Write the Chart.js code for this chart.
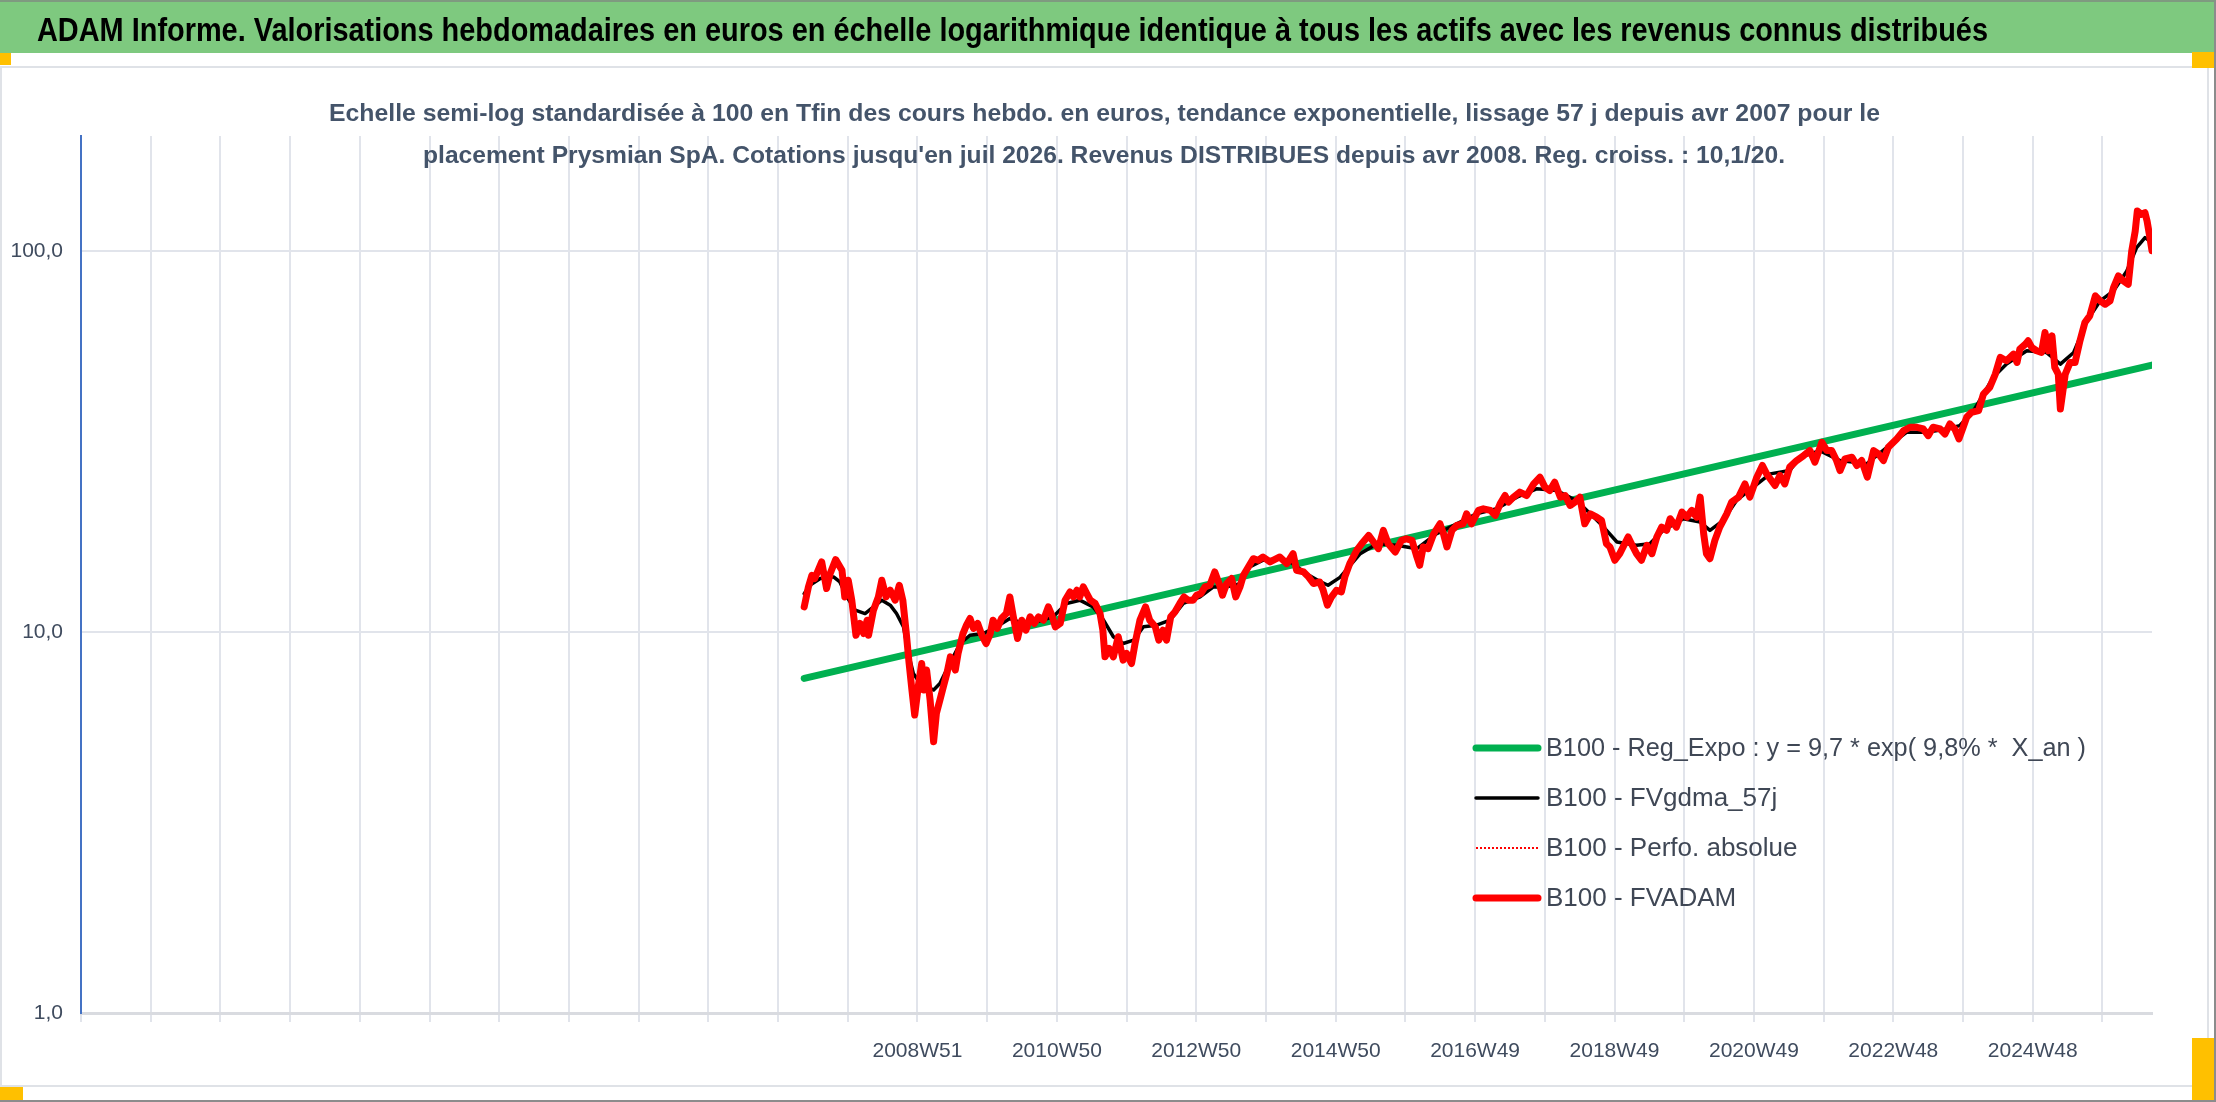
<!DOCTYPE html>
<html lang="fr">
<head>
<meta charset="utf-8">
<title>ADAM Informe - Prysmian SpA</title>
<script src="https://cdn.jsdelivr.net/npm/chart.js@4.4.1/dist/chart.umd.min.js"></script>
<style>
  html, body { margin: 0; padding: 0; background: #fff; }
  body { width: 2216px; height: 1102px; position: relative; overflow: hidden;
         font-family: 'Liberation Sans Narrow', 'Liberation Sans', sans-serif; }
  #frame { position: absolute; left: 0; top: 0; width: 2216px; height: 1102px; box-sizing: border-box;
           border-top: 2px solid #7f9a80; border-right: 2px solid #8c8c8c; border-bottom: 2px solid #8c8c8c; }
  #banner { position: absolute; left: 0; top: 0; width: 2216px; height: 53px; background: #7ec97f; }
  #box { position: absolute; left: 0; top: 66px; width: 2209px; height: 1021px; box-sizing: border-box;
         border: 2px solid #dfe2e7; }
  .tab { position: absolute; background: #ffc000; }
  .fit { position: absolute; white-space: nowrap; transform-origin: 0 0; z-index: 3; }
  #title { font-weight: bold; font-size: 34px; line-height: 34px; color: #000; }
  .sub { font-weight: bold; font-size: 23px; line-height: 23px; color: #44546a; }
  canvas { position: absolute; left: 0; top: 0; z-index: 2; }
</style>
</head>
<body>
<div id="banner"></div>
<div id="box"></div>
<div class="tab" style="left:0;top:53px;width:11px;height:12px"></div>
<div class="tab" style="left:2192px;top:52px;width:22px;height:16px"></div>
<div class="tab" style="left:2192px;top:1038px;width:23px;height:62px"></div>
<div class="tab" style="left:0;top:1087px;width:23px;height:13px"></div>
<div id="frame"></div>
<canvas id="chart" width="2216" height="1102"></canvas>

<div id="title" class="fit" data-left="37" data-top="12" data-width="1951">ADAM Informe. Valorisations hebdomadaires en euros en échelle logarithmique identique à tous les actifs avec les revenus connus distribués</div>
<div class="fit sub" data-left="329" data-top="102" data-width="1551">Echelle semi-log standardisée à 100 en Tfin des cours hebdo. en euros, tendance exponentielle, lissage 57 j depuis avr 2007 pour le</div>
<div class="fit sub" data-left="423" data-top="144" data-width="1362">placement Prysmian SpA. Cotations jusqu'en juil 2026. Revenus DISTRIBUES depuis avr 2008. Reg. croiss. : 10,1/20.</div>

<script>
// --- data (x in decimal years, y in base-100 euros) ---
// one row per calendar year, years and values kept row for row
const fvadamYears = [
  2007.34, 2007.40, 2007.45, 2007.49, 2007.59, 2007.66, 2007.71, 2007.79, 2007.88, 2007.92, 2007.97,
  2008.02, 2008.08, 2008.14, 2008.19, 2008.24, 2008.26, 2008.33, 2008.40, 2008.45, 2008.51, 2008.57, 2008.64, 2008.70, 2008.75, 2008.80, 2008.84, 2008.88, 2008.92, 2008.97,
  2009.02, 2009.05, 2009.09, 2009.14, 2009.19, 2009.23, 2009.28, 2009.33, 2009.38, 2009.43, 2009.50, 2009.54, 2009.61, 2009.66, 2009.71, 2009.76, 2009.82, 2009.88, 2009.94,
  2010.00, 2010.04, 2010.10, 2010.16, 2010.23, 2010.28, 2010.33, 2010.39, 2010.45, 2010.51, 2010.57, 2010.63, 2010.69, 2010.76, 2010.83, 2010.88, 2010.93,
  2011.00, 2011.07, 2011.14, 2011.19, 2011.24, 2011.28, 2011.33, 2011.38, 2011.43, 2011.50, 2011.57, 2011.61, 2011.64, 2011.70, 2011.76, 2011.83, 2011.90, 2011.95,
  2012.02, 2012.07, 2012.14, 2012.22, 2012.28, 2012.36, 2012.41, 2012.47, 2012.52, 2012.58, 2012.64, 2012.71, 2012.77, 2012.83, 2012.90, 2012.95,
  2013.01, 2013.07, 2013.14, 2013.21, 2013.28, 2013.32, 2013.38, 2013.45, 2013.51, 2013.57, 2013.62, 2013.69, 2013.76, 2013.83, 2013.90,
  2014.00, 2014.14, 2014.24, 2014.33, 2014.38, 2014.48, 2014.55, 2014.62, 2014.71, 2014.76, 2014.82, 2014.88, 2014.95,
  2015.02, 2015.07, 2015.14, 2015.24, 2015.31, 2015.41, 2015.48, 2015.55, 2015.62, 2015.69, 2015.79, 2015.88, 2015.95,
  2016.03, 2016.10, 2016.14, 2016.19, 2016.26, 2016.34, 2016.43, 2016.48, 2016.53, 2016.60, 2016.67, 2016.76, 2016.81, 2016.88, 2016.93, 2016.98,
  2017.05, 2017.15, 2017.22, 2017.29, 2017.36, 2017.41, 2017.48, 2017.57, 2017.67, 2017.77, 2017.86, 2017.93,
  2018.00, 2018.07, 2018.15, 2018.22, 2018.29, 2018.36, 2018.43, 2018.50, 2018.58, 2018.67, 2018.74, 2018.81, 2018.86, 2018.93,
  2019.00, 2019.12, 2019.19, 2019.24, 2019.31, 2019.39, 2019.46, 2019.53, 2019.60, 2019.67, 2019.72, 2019.81, 2019.89, 2019.96,
  2020.03, 2020.10, 2020.15, 2020.20, 2020.24, 2020.29, 2020.36, 2020.43, 2020.53, 2020.60, 2020.70, 2020.79, 2020.86, 2020.96,
  2021.04, 2021.10, 2021.22, 2021.29, 2021.36, 2021.43, 2021.53, 2021.63, 2021.72, 2021.79, 2021.89, 2021.96,
  2022.03, 2022.10, 2022.15, 2022.22, 2022.32, 2022.39, 2022.46, 2022.54, 2022.63, 2022.70, 2022.77, 2022.84, 2022.96,
  2023.06, 2023.15, 2023.25, 2023.34, 2023.41, 2023.48, 2023.58, 2023.65, 2023.72, 2023.79, 2023.85, 2023.91, 2023.96,
  2024.03, 2024.13, 2024.20, 2024.29, 2024.37, 2024.44, 2024.53, 2024.63, 2024.68, 2024.72, 2024.80, 2024.84, 2024.89, 2024.96,
  2025.03, 2025.08, 2025.13, 2025.18, 2025.22, 2025.27, 2025.30, 2025.37, 2025.44, 2025.51, 2025.58, 2025.65, 2025.72, 2025.80, 2025.87, 2025.94,
  2026.01, 2026.06, 2026.13, 2026.20, 2026.27, 2026.32, 2026.37, 2026.40, 2026.46, 2026.51, 2026.54, 2026.58, 2026.61
];
const fvadamValues = [
  11.63, 13.12, 14.08, 13.80, 15.26, 12.99, 14.21, 15.47, 14.51, 12.35, 13.66,
  12.11, 9.80, 10.52, 9.90, 10.73, 9.80, 11.40, 12.35, 13.66, 12.35, 12.86, 12.11, 13.25, 12.11, 9.90, 8.26, 7.04, 6.05, 7.18,
  8.26, 7.04, 7.94, 6.62, 5.15, 6.11, 6.62, 7.18, 7.78, 8.60, 7.94, 8.78, 9.90, 10.41, 10.84, 10.21, 10.52, 9.80, 9.32,
  9.90, 10.73, 10.21, 10.84, 11.17, 12.35, 10.95, 9.61, 10.73, 10.10, 10.95, 10.52, 10.95, 10.73, 11.63, 11.06, 10.31,
  10.52, 12.11, 12.73, 12.35, 12.86, 12.35, 13.12, 12.60, 12.11, 11.87, 11.17, 10.10, 8.60, 9.05, 8.60, 9.71, 8.43, 8.78,
  8.26, 9.32, 10.73, 11.63, 10.73, 10.31, 9.51, 10.10, 9.51, 10.95, 11.28, 11.87, 12.35, 12.11, 12.11, 12.48,
  12.60, 13.12, 13.25, 14.36, 13.25, 12.48, 13.38, 13.80, 12.35, 13.12, 14.08, 14.80, 15.56, 15.41, 15.72,
  15.26, 15.72, 15.10, 16.04, 14.51, 14.36, 13.94, 13.39, 13.52, 12.86, 11.75, 12.36, 12.86,
  12.73, 13.94, 15.10, 16.36, 17.03, 17.91, 17.21, 16.53, 18.46, 17.03, 16.20, 17.38, 17.55,
  17.38, 15.72, 14.95, 16.70, 16.53, 18.09, 19.21, 18.09, 16.70, 18.46, 19.02, 19.21, 20.40, 19.21, 20.00, 20.83,
  21.03, 20.83, 20.21, 21.68, 22.79, 21.89, 22.57, 23.26, 22.79, 24.45, 25.45, 23.97,
  23.49, 24.70, 22.57, 22.79, 21.46, 21.89, 22.57, 19.21, 20.40, 20.00, 19.61, 17.03, 16.70, 15.41,
  16.04, 17.74, 16.70, 16.04, 15.41, 16.87, 16.04, 17.74, 18.83, 18.46, 19.81, 18.83, 20.62, 20.00,
  20.83, 20.00, 22.57, 18.09, 16.04, 15.56, 17.38, 18.83, 20.40, 21.89, 22.57, 24.45, 22.57, 25.45,
  27.32, 25.98, 24.22, 25.72, 24.45, 27.05, 28.15, 29.01, 29.90, 27.87, 31.44, 29.90,
  29.90, 28.15, 26.50, 28.44, 28.72, 27.32, 28.15, 25.46, 29.90, 29.31, 28.15, 30.51, 32.08,
  33.73, 34.42, 34.42, 34.07, 32.73, 34.42, 34.07, 33.06, 35.12, 34.07, 32.08, 34.42, 36.56,
  37.67, 38.05, 42.07, 43.80, 47.47, 52.48, 51.44, 53.55, 50.92, 55.18, 56.87, 58.03, 55.74, 54.64,
  54.09, 61.02, 54.64, 59.80, 49.41, 47.47, 38.44, 47.47, 50.92, 50.92, 58.03, 64.80, 67.46, 76.13, 73.86, 72.37,
  73.86, 80.05, 85.87, 83.31, 81.66, 99.84, 112.6, 127.1, 124.5, 125.8, 119.6, 108.2, 100.0
];
const smoothYears = [
  2007.34, 2007.42, 2007.57, 2007.76, 2007.85, 2007.95,
  2008.07, 2008.21, 2008.33, 2008.45, 2008.57, 2008.66, 2008.76, 2008.83, 2008.90,
  2009.00, 2009.19, 2009.28, 2009.42, 2009.57, 2009.71, 2009.90,
  2010.09, 2010.28, 2010.47, 2010.66, 2010.90,
  2011.09, 2011.28, 2011.47, 2011.62, 2011.76, 2011.90,
  2012.05, 2012.19, 2012.38, 2012.57, 2012.76,
  2013.00, 2013.19, 2013.38, 2013.57, 2013.71, 2013.90,
  2014.14, 2014.29, 2014.52, 2014.70, 2014.83,
  2015.00, 2015.29, 2015.53, 2015.81,
  2016.10, 2016.38, 2016.67, 2016.95,
  2017.24, 2017.53, 2017.81,
  2018.10, 2018.38, 2018.58, 2018.77, 2018.96,
  2019.24, 2019.43, 2019.62, 2019.91,
  2020.15, 2020.29, 2020.48, 2020.67, 2020.91,
  2021.15, 2021.43, 2021.58, 2021.86,
  2022.15, 2022.53, 2022.82,
  2023.10, 2023.39, 2023.67, 2023.86,
  2024.06, 2024.34, 2024.53, 2024.82,
  2025.10, 2025.30, 2025.49, 2025.68, 2025.87,
  2026.06, 2026.25, 2026.39, 2026.51, 2026.58, 2026.61
];
const smoothValues = [
  12.60, 13.25, 13.80, 13.94, 13.52, 12.35,
  11.40, 11.17, 11.63, 12.11, 11.75, 11.17, 10.31, 8.78, 7.78,
  7.32, 7.04, 7.32, 8.26, 9.32, 9.80, 9.90,
  10.31, 10.84, 10.52, 10.62, 10.95,
  11.87, 12.11, 11.63, 10.73, 9.71, 9.32,
  9.51, 10.31, 10.41, 10.73, 11.87,
  12.35, 13.12, 13.12, 13.38, 14.80, 15.41,
  15.56, 15.25, 14.21, 13.60, 13.25,
  13.90, 16.04, 17.03, 16.87,
  16.53, 18.09, 19.21, 20.40,
  21.03, 22.57, 23.73,
  23.49, 22.12, 20.40, 18.83, 17.21,
  16.87, 17.03, 18.46, 19.81,
  19.41, 18.46, 19.61, 22.12, 23.97,
  25.97, 26.50, 28.72, 29.90,
  28.15, 27.59, 30.51,
  33.40, 33.40, 34.07, 34.77,
  38.05, 46.53, 50.42, 54.64,
  54.09, 50.42, 54.09, 65.46, 73.86,
  78.45, 88.50, 101.9, 108.2, 106.0, 104.0
];
// exponential trend: two end points, straight on the log axis
const regYears = [2007.34, 2026.61];
const regValues = [7.55, 50.1];

const xTickLabels = ['2008W51', '2010W50', '2012W50', '2014W50', '2016W49', '2018W49', '2020W49', '2022W48', '2024W48'];
const yTicks = [1, 10, 100];

const legendLabels = [
  'B100 - Reg_Expo : y = 9,7 * exp( 9,8% *  X_an )',
  'B100 - FVgdma_57j',
  'B100 - Perfo. absolue',
  'B100 - FVADAM'
];

// --- axis setup ---
const X_START = 1997.0, X_END = 2026.61;
const WEEKS_PER_YEAR = 52.1775;
const STEP = 52 / WEEKS_PER_YEAR;      // gridline every 52 weeks
const FIRST_LABEL = 12;                // first labelled gridline (2008W51)
const GRID = '#e1e4eb';
const LABEL_COLOR = '#3f4b5e';

function fontAvailable(name) {
  const c = document.createElement('canvas').getContext('2d');
  c.font = '40px monospace';
  const base = c.measureText('mmmWWiil 0123,').width;
  c.font = '40px "' + name + '", monospace';
  return c.measureText('mmmWWiil 0123,').width !== base;
}
const narrow = fontAvailable('Liberation Sans Narrow');
const tickFont = narrow ? { family: "'Liberation Sans Narrow'", size: 24 } : { family: "'Liberation Sans'", size: 21 };

function pts(xs, ys) {
  return xs.map(function (x, i) { return { x: x, y: ys[i] }; });
}

const legendPlugin = {
  id: 'boxLegend',
  afterDraw: function (chart) {
    const ctx = chart.ctx;
    const a = chart.chartArea;
    const x0 = a.left + 1395, y0 = a.top + 612;
    ctx.save();
    chart.data.datasets.forEach(function (ds, i) {
      const y = y0 + i * 50;
      ctx.beginPath();
      ctx.strokeStyle = ds.borderColor;
      ctx.lineWidth = ds.borderWidth;
      ctx.setLineDash(ds.borderDash || []);
      ctx.lineCap = ds.borderDash ? 'butt' : 'round';
      ctx.moveTo(x0, y);
      ctx.lineTo(x0 + 62, y);
      ctx.stroke();
      ctx.setLineDash([]);
      ctx.fillStyle = '#3f4755';
      ctx.font = "26px 'Liberation Sans', sans-serif";
      ctx.textBaseline = 'middle';
      ctx.fillText(legendLabels[i], x0 + 70, y + 1, 540);
    });
    ctx.restore();
  }
};

new Chart(document.getElementById('chart'), {
  type: 'line',
  data: {
    datasets: [
      { label: legendLabels[0], data: pts(regYears, regValues), borderColor: '#00b050', borderWidth: 7, order: 3 },
      { label: legendLabels[1], data: pts(smoothYears, smoothValues), borderColor: '#000000', borderWidth: 3.5, order: 2 },
      { label: legendLabels[2], data: pts(fvadamYears, fvadamValues), borderColor: '#ff0000', borderWidth: 2, borderDash: [2, 2], order: 1 },
      { label: legendLabels[3], data: pts(fvadamYears, fvadamValues), borderColor: '#ff0000', borderWidth: 7, order: 0 }
    ]
  },
  options: {
    responsive: false,
    devicePixelRatio: 1,
    animation: false,
    layout: { padding: { top: 136, right: 64, left: 0, bottom: 0 } },
    elements: {
      point: { radius: 0 },
      line: { tension: 0, borderJoinStyle: 'round', borderCapStyle: 'round' }
    },
    plugins: { legend: { display: false }, title: { display: false }, tooltip: { enabled: false } },
    scales: {
      x: {
        type: 'linear',
        min: X_START,
        max: X_END,
        afterBuildTicks: function (s) {
          s.ticks = [];
          for (let k = 0; X_START + k * STEP <= X_END; k++) s.ticks.push({ value: X_START + k * STEP });
        },
        afterFit: function (s) { s.height = 89; },
        ticks: {
          autoSkip: false,
          maxRotation: 0,
          padding: 17,
          color: LABEL_COLOR,
          font: tickFont,
          callback: function (v, i) {
            if (i < FIRST_LABEL || (i - FIRST_LABEL) % 2) return '';
            return xTickLabels[(i - FIRST_LABEL) / 2] || '';
          }
        },
        grid: {
          color: function (c) { return c.index === 0 ? 'rgba(0,0,0,0)' : GRID; },
          lineWidth: 2,
          tickLength: 9,
          tickColor: GRID,
          tickWidth: 2
        },
        border: { color: '#d9dbe0', width: 3 }
      },
      y: {
        type: 'logarithmic',
        min: 1,
        max: 200,
        afterBuildTicks: function (s) {
          s.ticks = yTicks.map(function (v) { return { value: v }; });
        },
        afterFit: function (s) { s.width = 81; },
        ticks: {
          autoSkip: false,
          padding: 18,
          color: LABEL_COLOR,
          font: tickFont,
          callback: function (v) { return Number(v).toFixed(1).replace('.', ','); }
        },
        grid: { color: GRID, lineWidth: 2, drawTicks: false },
        border: { color: '#4472c4', width: 2 }
      }
    }
  },
  plugins: [legendPlugin]
});

// squeeze the header texts to the reference widths
document.querySelectorAll('.fit').forEach(function (el) {
  const w = el.getBoundingClientRect().width;
  el.style.left = el.dataset.left + 'px';
  el.style.top = el.dataset.top + 'px';
  el.style.transform = 'scaleX(' + (Number(el.dataset.width) / w) + ')';
});
</script>
</body>
</html>
